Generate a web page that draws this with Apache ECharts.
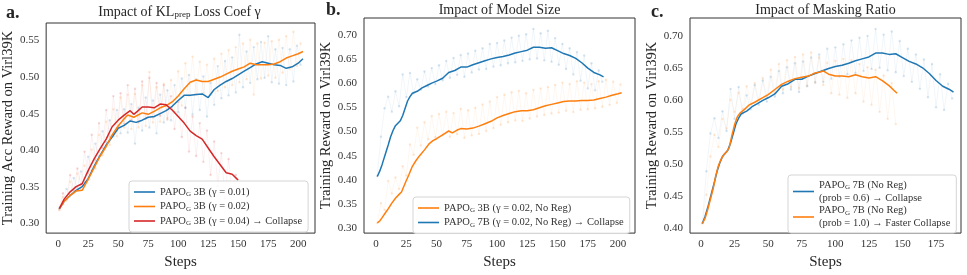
<!DOCTYPE html>
<html><head><meta charset="utf-8">
<script src="https://cdn.jsdelivr.net/npm/echarts@6/dist/echarts.min.js"></script>
<style>html,body{margin:0;padding:0;background:#fff}#c{width:967px;height:275px}</style>
</head><body><div id="c"></div>
<script>
const FONT = '"Liberation Serif", "DejaVu Serif", serif';
// ---------- DATA ----------
const rawSteps = [1,4,7,10,13,16,19,22,25,28,31,34,37,40,43,46,49,52,55,58,61,64,67,70,73,76,79,82,85,88,91,94,97,100,103,106,109,112,115,118,121,124,127,130,133,136,139,142,145,148,151,154,157,160,163,166,169,172,175,178,181,184,187,190,193,196,199,202];
const xTicksAB = [0,25,50,75,100,125,150,175,200];
const xTicksC = [0,25,50,75,100,125,150,175];
const yTicksA = [0.30,0.35,0.40,0.45,0.50,0.55];
const yTicksB = [0.30,0.35,0.40,0.45,0.50,0.55,0.60,0.65,0.70];
const yTicksC = [0.40,0.45,0.50,0.55,0.60,0.65,0.70];

// Panel a: gamma 0.01 (blue)
const aBlueSmooth = [[1,.320],[5,.330],[10,.338],[15,.345],[20,.350],[25,.361],[30,.378],[35,.393],[40,.407],[45,.418],[50,.430],[55,.434],[60,.440],[65,.438],[70,.441],[75,.445],[80,.446],[85,.450],[90,.454],[95,.460],[100,.468],[105,.475],[110,.475],[115,.476],[120,.477],[125,.472],[130,.483],[135,.489],[140,.494],[145,.498],[150,.503],[155,.508],[160,.513],[165,.518],[170,.521],[175,.519],[180,.517],[185,.516],[190,.512],[195,.514],[200,.519],[204,.525]];
const aBlueRaw = [.321,.326,.347,.338,.362,.349,.371,.357,.391,.372,.409,.391,.426,.411,.441,.419,.455,.423,.456,.424,.463,.409,.458,.427,.472,.431,.468,.423,.476,.438,.482,.441,.489,.452,.498,.458,.503,.449,.497,.455,.501,.446,.492,.462,.515,.471,.522,.475,.527,.479,.558,.486,.535,.492,.541,.497,.548,.499,.556,.493,.538,.491,.540,.489,.538,.494,.543,.517];
// Panel a: gamma 0.02 (orange)
const aOrangeSmooth = [[1,.320],[5,.330],[10,.338],[15,.344],[20,.345],[25,.360],[30,.376],[35,.392],[40,.405],[45,.421],[50,.433],[55,.443],[58,.448],[63,.445],[70,.451],[75,.449],[80,.453],[85,.458],[90,.461],[95,.466],[100,.474],[105,.484],[110,.493],[115,.496],[120,.494],[125,.494],[130,.497],[135,.500],[140,.504],[145,.508],[150,.511],[155,.514],[160,.519],[165,.517],[170,.517],[175,.517],[180,.518],[185,.521],[190,.526],[195,.529],[200,.532],[204,.535]];
const aOrangeRaw = [.319,.336,.331,.357,.341,.368,.347,.379,.359,.401,.375,.421,.393,.439,.407,.456,.419,.472,.431,.476,.429,.477,.431,.489,.433,.507,.438,.486,.439,.491,.444,.496,.452,.508,.461,.519,.474,.528,.476,.521,.478,.517,.476,.525,.481,.532,.486,.537,.489,.541,.493,.546,.497,.551,.476,.546,.498,.547,.502,.549,.499,.551,.506,.556,.511,.562,.515,.546];
// Panel a: gamma 0.04 (red, collapse)
const aRedSmooth = [[1,.320],[5,.333],[10,.343],[15,.350],[20,.354],[25,.372],[30,.388],[35,.402],[40,.415],[45,.432],[50,.441],[55,.448],[60,.454],[63,.449],[66,.453],[70,.459],[75,.459],[80,.458],[85,.463],[90,.462],[95,.455],[100,.446],[105,.437],[110,.426],[115,.420],[120,.415],[125,.403],[130,.391],[135,.380],[140,.369],[145,.367],[150,.359]];
const aRedRaw = [.318,.341,.333,.366,.345,.375,.353,.398,.369,.421,.386,.437,.403,.455,.418,.474,.427,.478,.436,.489,.441,.484,.438,.494,.443,.499,.445,.492,.447,.489,.442,.474,.429,.466,.418,.458,.398,.446,.392,.437,.384,.427,.366,.412,.351,.396,.334,.388,.339,.366];
// Panel b: 3B (orange)
const bOrangeSmooth = [[1,.311],[3,.315],[5,.322],[8,.333],[10,.340],[13,.352],[16,.362],[19,.370],[21,.375],[24,.393],[27,.410],[30,.428],[33,.440],[36,.450],[40,.462],[44,.475],[47,.481],[50,.485],[55,.493],[60,.501],[63,.497],[67,.503],[70,.506],[75,.505],[80,.507],[85,.511],[90,.516],[95,.521],[100,.528],[105,.533],[110,.537],[115,.541],[120,.543],[125,.543],[130,.545],[135,.549],[140,.553],[145,.556],[150,.559],[155,.562],[160,.563],[165,.563],[170,.564],[175,.564],[180,.565],[185,.568],[190,.571],[195,.575],[200,.578],[203,.580]];
const bOrangeRaw = [.311,.352,.338,.398,.372,.405,.381,.428,.409,.473,.452,.508,.471,.519,.484,.532,.488,.536,.492,.541,.489,.538,.495,.547,.487,.544,.492,.549,.495,.556,.501,.562,.507,.571,.514,.576,.519,.581,.523,.584,.522,.579,.527,.586,.531,.589,.534,.592,.537,.596,.539,.601,.543,.598,.540,.604,.545,.601,.546,.598,.548,.604,.551,.607,.555,.603,.559,.597];
// Panel b / c: 7B No Reg (blue, collapse)
const blueSmooth7B = [[1,.407],[3,.418],[5,.432],[8,.456],[10,.472],[12,.489],[14,.502],[16,.512],[18,.517],[20,.522],[22,.533],[24,.548],[26,.563],[28,.572],[30,.579],[34,.583],[38,.590],[42,.595],[46,.600],[50,.604],[55,.610],[60,.622],[65,.626],[70,.633],[75,.633],[80,.638],[85,.642],[90,.646],[95,.650],[100,.653],[105,.655],[110,.658],[115,.662],[120,.665],[125,.668],[130,.674],[135,.674],[140,.672],[145,.673],[150,.667],[155,.661],[160,.657],[165,.651],[170,.642],[175,.631],[180,.622],[185,.617],[188,.613]];
const blueRaw7B = [.408,.489,.548,.572,.541,.583,.552,.618,.571,.621,.579,.608,.586,.624,.593,.631,.598,.637,.606,.646,.611,.652,.617,.658,.613,.661,.622,.667,.628,.672,.629,.681,.634,.683,.637,.688,.641,.694,.643,.698,.646,.701,.649,.712,.651,.703,.647,.708,.644,.693,.638,.681,.629,.672,.618,.664,.605,.657,.589,.641,.585,.626,.603];
// Panel c: prob 1.0 (orange, faster collapse)
const cOrangeSmooth = [[1,.407],[3,.415],[5,.429],[7,.445],[9,.461],[11,.482],[13,.498],[15,.508],[17,.515],[19,.519],[21,.526],[23,.545],[25,.562],[27,.574],[29,.580],[32,.585],[36,.593],[40,.597],[45,.603],[50,.609],[55,.617],[60,.625],[65,.630],[70,.634],[75,.636],[80,.638],[85,.643],[88,.644],[91,.646],[95,.641],[100,.638],[105,.638],[110,.637],[115,.640],[120,.637],[125,.635],[130,.637],[135,.631],[140,.623],[143,.617],[146,.611]];
const cOrangeRaw = [.407,.452,.512,.546,.527,.571,.556,.601,.582,.612,.586,.622,.594,.627,.601,.635,.606,.648,.612,.657,.617,.663,.621,.668,.619,.672,.623,.675,.628,.667,.624,.659,.611,.662,.609,.665,.604,.663,.611,.657,.598,.652,.593,.648,.582,.639,.571,.627,.563];

// ---------- CHART ----------
const BLUE = '#1f77b4', ORANGE = '#ff7f0e', RED = '#d62728';
const TXT = '#262626';
function zipRaw(vals){ return vals.map((v,i)=>[rawSteps[i], v]); }

const grids = [
  {left:44, top:23, width:271, height:214},
  {left:364, top:18, width:271, height:219},
  {left:690, top:18, width:271, height:219}
].map(g=>Object.assign(g,{show:true, borderColor:'#333', borderWidth:1, backgroundColor:'#fff'}));

function xAxis(i, min, max, ticks){
  return {gridIndex:i, type:'value', min, max,
    axisLine:{show:false}, axisTick:{show:false}, splitLine:{show:false},
    axisLabel:{customValues:ticks, color:'#333', fontSize:11, fontFamily:FONT, margin:6, formatter:v=>String(v)},
    name:'Steps', nameLocation:'middle', nameGap:19,
    nameTextStyle:{fontSize:15, color:TXT, fontFamily:FONT}};
}
function yAxis(i, min, max, ticks, name, gap){
  return {gridIndex:i, type:'value', min, max,
    axisLine:{show:false}, axisTick:{show:false}, splitLine:{show:false},
    axisLabel:{customValues:ticks, color:'#333', fontSize:11, fontFamily:FONT, margin:7, formatter:v=>v.toFixed(2)},
    name, nameLocation:'middle', nameGap:gap,
    nameTextStyle:{fontSize:14.5, color:TXT, fontFamily:FONT}};
}
function rawSeries(name, i, vals, color){
  return {name, type:'line', xAxisIndex:i, yAxisIndex:i, data:zipRaw(vals),
    symbol:'circle', symbolSize:2.4, showSymbol:true, z:1, silent:true,
    lineStyle:{width:0.6, color, opacity:0.11}, itemStyle:{color, opacity:0.18}};
}
function smoothSeries(name, i, data, color){
  return {name, type:'line', xAxisIndex:i, yAxisIndex:i, data,
    symbol:'none', showSymbol:false, z:3, lineStyle:{width:1.5, color}, itemStyle:{color}};
}
const series = [
  rawSeries('aBr',0,aBlueRaw,BLUE), rawSeries('aOr',0,aOrangeRaw,ORANGE), rawSeries('aRr',0,aRedRaw,RED),
  smoothSeries('aB',0,aBlueSmooth,BLUE), smoothSeries('aO',0,aOrangeSmooth,ORANGE), smoothSeries('aR',0,aRedSmooth,RED),
  rawSeries('bOr',1,bOrangeRaw,ORANGE), rawSeries('bBr',1,blueRaw7B,BLUE),
  smoothSeries('bO',1,bOrangeSmooth,ORANGE), smoothSeries('bB',1,blueSmooth7B,BLUE),
  rawSeries('cOr',2,cOrangeRaw,ORANGE), rawSeries('cBr',2,blueRaw7B,BLUE),
  smoothSeries('cB',2,blueSmooth7B,BLUE), smoothSeries('cO',2,cOrangeSmooth,ORANGE)
];
const LEG = {
  aB:'{n|PAPO}{s|G}{n| 3B (γ = 0.01)}',
  aO:'{n|PAPO}{s|G}{n| 3B (γ = 0.02)}',
  aR:'{n|PAPO}{s|G}{n| 3B (γ = 0.04) → Collapse}',
  bO:'{n|PAPO}{s|G}{n| 3B (γ = 0.02, No Reg)}',
  bB:'{n|PAPO}{s|G}{n| 7B (γ = 0.02, No Reg) → Collapse}',
  cB:'{n|PAPO}{s|G}{n| 7B (No Reg)}\n{n|(prob = 0.6) → Collapse}',
  cO:'{n|PAPO}{s|G}{n| 7B (No Reg)}\n{n|(prob = 1.0) → Faster Collapse}'
};
const rich = {
  n:{fontSize:10.5, fontFamily:FONT, color:'#333', lineHeight:13},
  s:{fontSize:7, fontFamily:FONT, color:'#333', lineHeight:13, padding:[5,0,0,0]}
};
function legend(left, top, data, gap, pad){
  return {left, top, orient:'vertical', data:data.map(n=>({name:n, icon:'rect'})), selectedMode:false,
    itemWidth:21, itemHeight:1.6, itemGap:gap, padding:pad,
    backgroundColor:'rgba(255,255,255,0.85)', borderColor:'#d5d5d5', borderWidth:1, borderRadius:3,
    formatter:n=>LEG[n], textStyle:{rich, fontFamily:FONT, fontSize:10.5, color:'#333'}};
}
const titleRich = {t:{fontSize:14, fontFamily:FONT, color:TXT}, s:{fontSize:9, fontFamily:FONT, color:TXT, padding:[6,0,0,0]}};
function txt(x, y, text, opts){
  return {type:'text', x, y, style:Object.assign({text, fill:TXT, font:'14px '+FONT, align:'center', verticalAlign:'middle'}, opts||{})};
}
const option = {
  animation:false, backgroundColor:'#fff',
  grid:grids,
  xAxis:[xAxis(0,-10,214,xTicksAB), xAxis(1,-10,214,xTicksAB), xAxis(2,-8.2,193.6,xTicksC)],
  yAxis:[yAxis(0,0.2865,0.574,yTicksA,'Training Acc Reward on Virl39K',22),
         yAxis(1,0.29,0.7345,yTicksB,'Training Reward on Virl39K',22),
         yAxis(2,0.392,0.729,yTicksC,'Training Reward on Virl39K',22)],
  legend:[legend(129,181,['aB','aO','aR'],2.5,[5,6,5,5]), legend(413,197,['bO','bB'],2.5,[5,6,5,5]), legend(788,175,['cB','cO'],1,[4,6,4,5])],
  series,
  graphic:[
    txt(6,13,'a.',{font:'bold 18px '+FONT, align:'left'}),
    txt(326,10,'b.',{font:'bold 18px '+FONT, align:'left'}),
    txt(651,12,'c.',{font:'bold 18px '+FONT, align:'left'}),
    txt(179.5,12,'{t|Impact of KL}{s|prep}{t| Loss Coef γ}',{rich:titleRich}),
    txt(499.5,10,'Impact of Model Size'),
    txt(825.5,10,'Impact of Masking Ratio')
  ]
};
const chart = echarts.init(document.getElementById('c'), null, {renderer:'canvas'});
chart.setOption(option);
</script></body></html>
